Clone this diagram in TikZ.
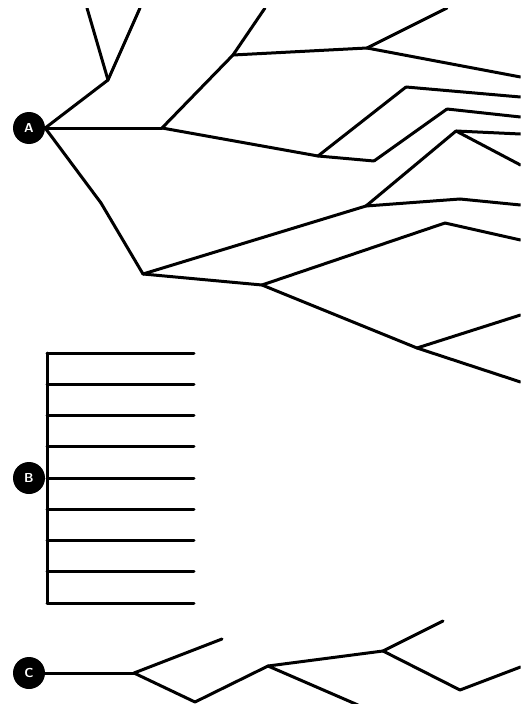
\documentclass[tikz,border=0pt]{standalone}
\usepackage{tikz}

\begin{document}
\begin{tikzpicture}[
    x=1pt,y=-1pt,
    hub/.style={circle,fill=black,text=white,inner sep=0pt,minimum size=32pt,font=\sffamily\bfseries\fontsize{13}{14}\selectfont},
    branch/.style={line width=3pt,line cap=round,line join=round}
]
\useasboundingbox (0,0) rectangle (527,704);
\clip (0,8) rectangle (520.5,704);

%%% A: irregular branching tree (runs off the top and right edges)
\node[hub] (A) at (29,128) {A};
% junctions
\coordinate (a1)  at (108,80);
\coordinate (a2)  at (162,128);
\coordinate (a3)  at (233,55);
\coordinate (a4)  at (367,48);
\coordinate (a5)  at (318,156);
\coordinate (a6)  at (406,87);
\coordinate (a7)  at (374,161);
\coordinate (a8)  at (447,109);
\coordinate (a9)  at (101,203);
\coordinate (a10) at (143,274);
\coordinate (a11) at (366,206);
\coordinate (a12) at (456,131);
\coordinate (a13) at (460,199);
\coordinate (a14) at (262,285);
\coordinate (a15) at (445,223);
\coordinate (a16) at (417,348);
% free ends at the border
\coordinate (t1) at (87,8);
\coordinate (t2) at (140,8);
\coordinate (t3) at (265,8);
\coordinate (t4) at (447,8);
\coordinate (r1) at (520.5,77);
\coordinate (r2) at (520.5,97);
\coordinate (r3) at (520.5,117);
\coordinate (r4) at (520.5,134);
\coordinate (r5) at (520.5,165);
\coordinate (r6) at (520.5,205);
\coordinate (r7) at (520.5,240);
\coordinate (r8) at (520.5,315);
\coordinate (r9) at (520.5,382);
% upper limb
\draw[branch] (A.east) -- (a1);
\draw[branch] (a1) -- (t1);
\draw[branch] (a1) -- (t2);
% middle limb
\draw[branch] (A.east) -- (a2);
\draw[branch] (a2) -- (a3);
\draw[branch] (a3) -- (t3);
\draw[branch] (a3) -- (a4);
\draw[branch] (a4) -- (t4);
\draw[branch] (a4) -- (r1);
\draw[branch] (a2) -- (a5);
\draw[branch] (a5) -- (a6);
\draw[branch] (a6) -- (r2);
\draw[branch] (a5) -- (a7);
\draw[branch] (a7) -- (a8);
\draw[branch] (a8) -- (r3);
% lower limb
\draw[branch] (A.east) -- (a9);
\draw[branch] (a9) -- (a10);
\draw[branch] (a10) -- (a11);
\draw[branch] (a11) -- (a12);
\draw[branch] (a12) -- (r4);
\draw[branch] (a12) -- (r5);
\draw[branch] (a11) -- (a13);
\draw[branch] (a13) -- (r6);
\draw[branch] (a10) -- (a14);
\draw[branch] (a14) -- (a15);
\draw[branch] (a15) -- (r7);
\draw[branch] (a14) -- (a16);
\draw[branch] (a16) -- (r8);
\draw[branch] (a16) -- (r9);

%%% B: comb of nine parallel lines
\node[hub] (B) at (29,478) {B};
\foreach \i in {0,...,8} {
    \coordinate (bl\i) at (47,353+31.25*\i);
    \coordinate (br\i) at (194,353+31.25*\i);
    \draw[branch] (bl\i) -- (br\i);
}
\draw[branch] (bl0) -- (bl8);

%%% C: zig-zag chain (runs off the bottom and right edges)
\node[hub] (C) at (29,673) {C};
\coordinate (c1) at (134,673);
\coordinate (c2) at (195,702);
\coordinate (c3) at (268,666);
\coordinate (c4) at (383,651);
\coordinate (c5) at (460,690);
\coordinate (u1) at (222,639);
\coordinate (u2) at (443,621);
\coordinate (d1) at (358,705);
\coordinate (e1) at (520.5,667);
\draw[branch] (C.east) -- (c1);
\draw[branch] (c1) -- (u1);
\draw[branch] (c1) -- (c2);
\draw[branch] (c2) -- (c3);
\draw[branch] (c3) -- (d1);
\draw[branch] (c3) -- (c4);
\draw[branch] (c4) -- (u2);
\draw[branch] (c4) -- (c5);
\draw[branch] (c5) -- (e1);
\end{tikzpicture}
\end{document}
